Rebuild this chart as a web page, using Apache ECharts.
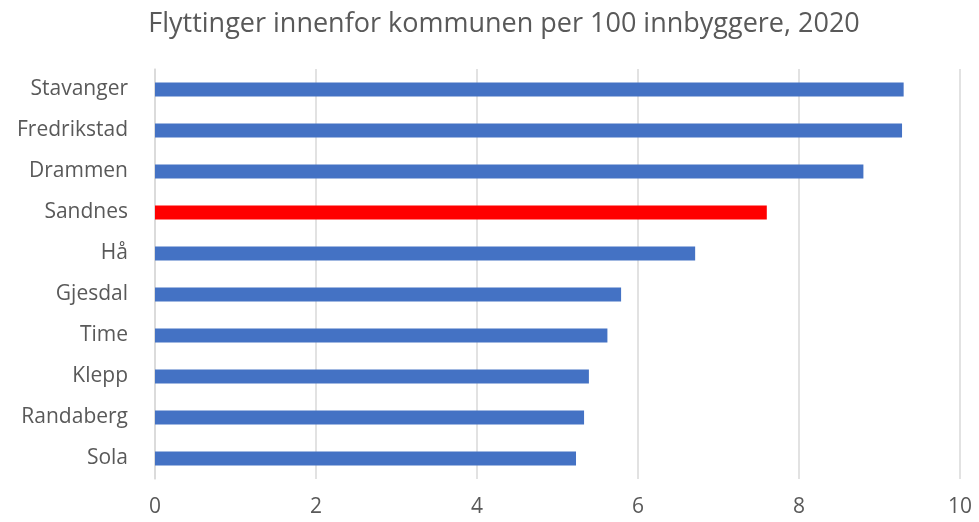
<!DOCTYPE html>
<html>
<head>
<meta charset="utf-8">
<script src="https://cdn.jsdelivr.net/npm/echarts@6/dist/echarts.min.js"></script>
<style>
  html, body { margin: 0; padding: 0; background: #fff; }
  #chart { width: 979px; height: 522px; }
</style>
</head>
<body>
<div id="chart"></div>
<script>
// kommuner, listed bottom to top as the category axis draws them
var kommuner = ['Sola', 'Randaberg', 'Klepp', 'Time', 'Gjesdal', 'Hå', 'Sandnes', 'Drammen', 'Fredrikstad', 'Stavanger'];
var flyttinger = [5.23, 5.33, 5.39, 5.62, 5.79, 6.71, 7.60, 8.80, 9.28, 9.30];
var highlight = 'Sandnes';
var xTicks = [0, 2, 4, 6, 8, 10];

var myChart = echarts.init(document.getElementById('chart'));
var option = {
    animation: false,
    title: {
        text: 'Flyttinger innenfor kommunen per 100 innbyggere, 2020',
        left: 499,
        textAlign: 'center',
        top: 6,
        textStyle: { fontFamily: 'Open Sans', fontSize: 27, fontWeight: 'normal', color: '#595959' }
    },
    grid: { left: 155, right: 19, top: 69, bottom: 43, containLabel: false },
    xAxis: {
        type: 'value',
        min: xTicks[0],
        max: xTicks[xTicks.length - 1],
        interval: 2,
        axisLine: { show: false },
        axisTick: { show: false },
        axisLabel: { fontFamily: 'Open Sans', fontSize: 21, color: '#595959', margin: 18 },
        splitLine: { lineStyle: { color: '#d9d9d9', width: 1.5 } }
    },
    yAxis: {
        type: 'category',
        data: kommuner,
        axisLine: { lineStyle: { color: '#d9d9d9', width: 1.5 } },
        axisTick: { show: false },
        axisLabel: { fontFamily: 'Open Sans', fontSize: 21, color: '#595959', margin: 27, padding: [3, 0, 0, 0] }
    },
    series: [{
        type: 'bar',
        barWidth: 14,
        data: flyttinger.map(function (v, i) {
            return {
                value: v,
                itemStyle: { color: kommuner[i] === highlight ? '#ff0000' : '#4472c4' }
            };
        })
    }]
};
myChart.setOption(option);
</script>
</body>
</html>
